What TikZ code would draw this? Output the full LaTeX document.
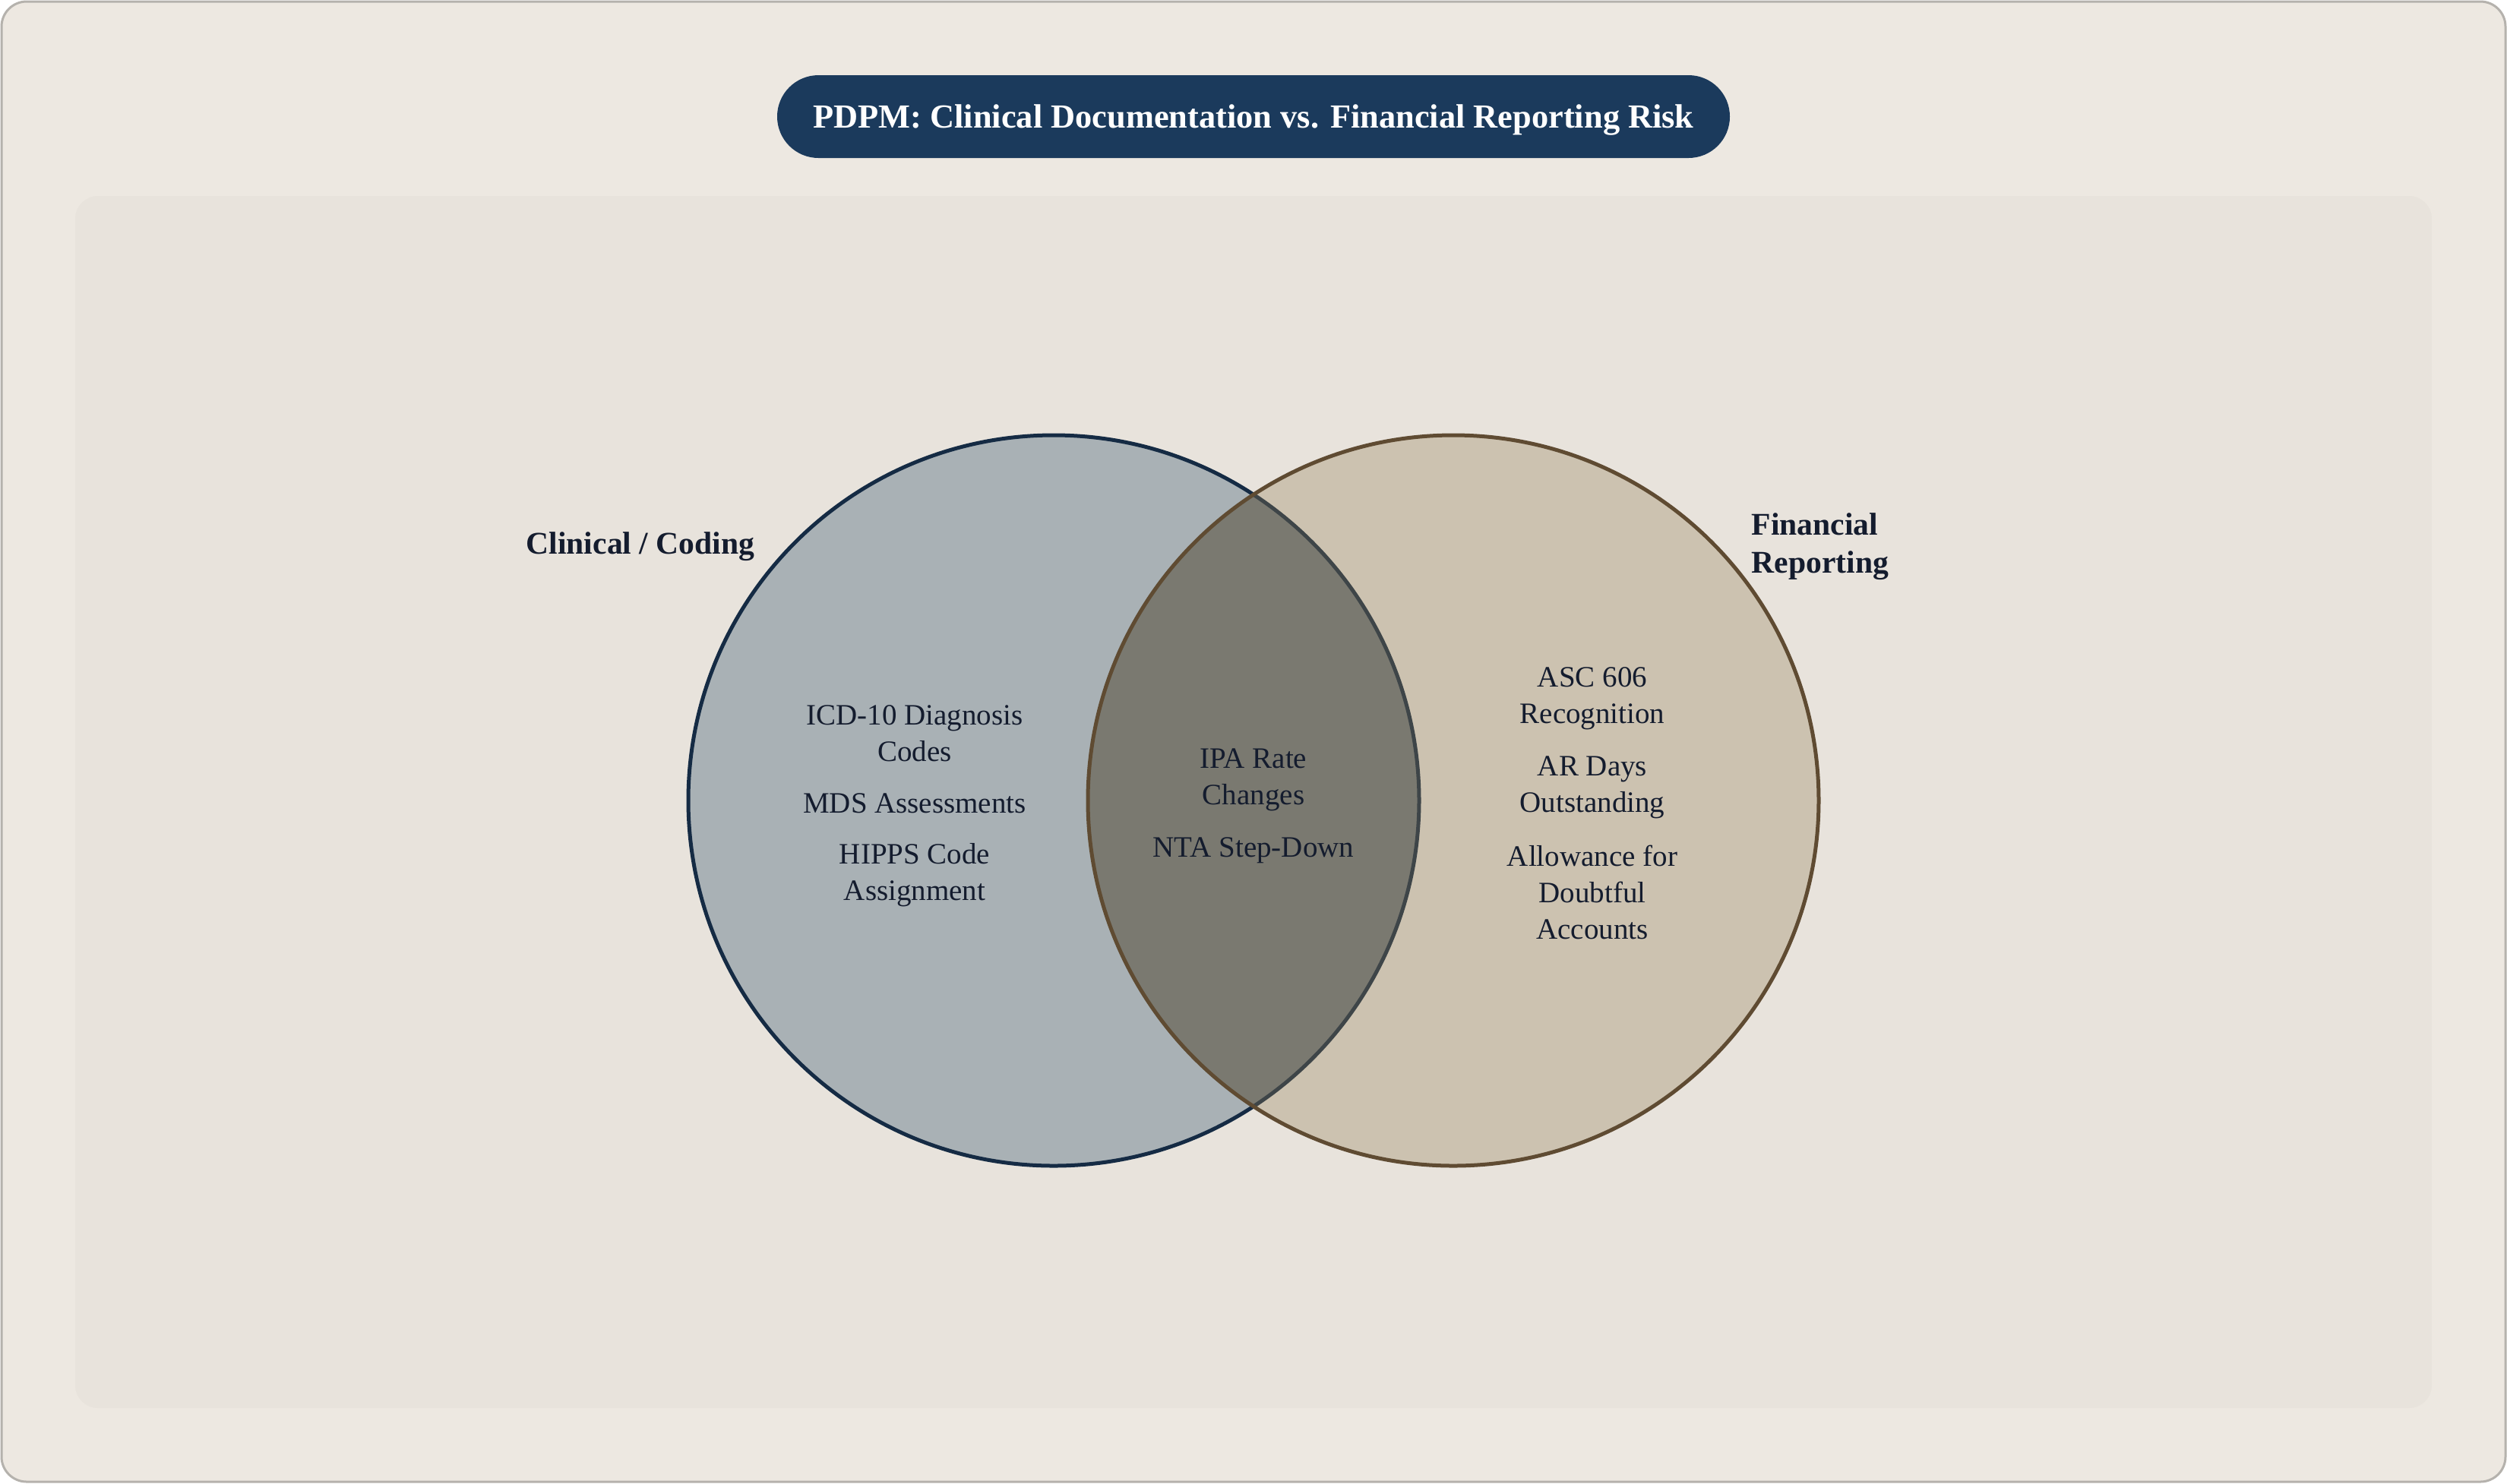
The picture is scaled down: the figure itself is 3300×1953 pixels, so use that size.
\documentclass[tikz,border=0pt]{standalone}
\usepackage{fontspec}
\setmainfont{Liberation Serif}
\definecolor{pagebg}{HTML}{EDE8E1}
\definecolor{pageborder}{HTML}{B5B2AD}
\definecolor{panelbg}{HTML}{E8E3DC}
\definecolor{titlebg}{HTML}{1B3A5C}
\definecolor{leftfill}{HTML}{A9B1B5}
\definecolor{rightfill}{HTML}{CCC2B0}
\definecolor{overlapfill}{HTML}{7A7970}
\definecolor{leftstroke}{HTML}{152B44}
\definecolor{rightstroke}{HTML}{5F4B32}
\definecolor{leftinner}{HTML}{3E4548}
\definecolor{textdark}{HTML}{141C2E}
\tikzset{
  itemtext/.style={text=textdark, align=center, font=\fontsize{9.75pt}{12pt}\selectfont, inner sep=0pt},
  setlabel/.style={text=textdark, font=\fontsize{10.4pt}{12.5pt}\selectfont\bfseries, inner sep=0pt},
  titletext/.style={text=white, font=\fontsize{11.1pt}{13pt}\selectfont\bfseries, inner sep=0pt}
}
\begin{document}
\begin{tikzpicture}[x=0.25pt,y=-0.25pt]
\useasboundingbox (0,0) rectangle (3300,1953);
% page
\draw[pageborder, fill=pagebg, line width=0.75pt, rounded corners=8.25pt] (2,2) rectangle (3298,1951);
% panel
\fill[panelbg, rounded corners=7.5pt] (99,258) rectangle (3201,1854);
% title
\fill[titlebg, rounded corners=13.6pt] (1023,99) rectangle (2277,208);
\node[titletext] (title) at (1650,158) {PDPM: Clinical Documentation vs. Financial Reporting Risk};
% circles
\coordinate (lc) at (1387,1054);
\coordinate (rc) at (1913,1054);
\fill[leftfill] (lc) circle[radius=481];
\draw[leftstroke, line width=1.25pt] (lc) circle[radius=481];
\fill[rightfill] (rc) circle[radius=481];
\begin{scope}
  \clip (lc) circle[radius=481];
  \fill[overlapfill] (rc) circle[radius=481];
\end{scope}
\begin{scope}
  \clip (rc) circle[radius=481];
  \draw[leftinner, line width=1.25pt] (lc) circle[radius=481];
\end{scope}
\draw[rightstroke, line width=1.25pt] (rc) circle[radius=481];
% set labels
\node[setlabel, anchor=east] (cliniclabel) at (994,720) {Clinical / Coding};
\node[setlabel, anchor=west, align=left] (finlabel) at (2305,720) {Financial\\Reporting};
% left items
\node[itemtext] (icd) at (1204,966) {ICD-10 Diagnosis\\Codes};
\node[itemtext] (mds) at (1204,1058) {MDS Assessments};
\node[itemtext] (hipps) at (1204,1152) {HIPPS Code\\Assignment};
% center items
\node[itemtext] (ipa) at (1650,1027) {IPA Rate\\Changes};
\node[itemtext] (nta) at (1650,1120) {NTA Step-Down};
% right items
\node[itemtext] (asc) at (2096,920) {ASC 606\\Recognition};
\node[itemtext] (ar) at (2096,1037) {AR Days\\Outstanding};
\node[itemtext] (allow) at (2096,1175) {Allowance for\\Doubtful\\Accounts};
\end{tikzpicture}
\end{document}
